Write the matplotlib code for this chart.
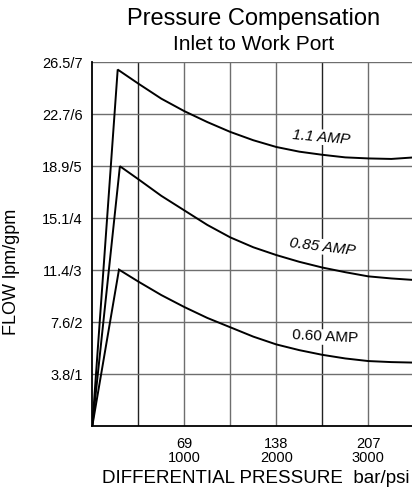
import numpy as np
import matplotlib
matplotlib.use("Agg")
import matplotlib.pyplot as plt

plt.rcParams['font.family'] = ['Liberation Sans', 'DejaVu Sans']

# data (x in psi, y in gpm)
psi_11 = [0, 276, 500, 750, 1000, 1250, 1500, 1750, 2000, 2250, 2500, 2750, 3000, 3250, 3500]
gpm_11 = [0, 6.86, 6.59, 6.30, 6.06, 5.85, 5.66, 5.50, 5.37, 5.28, 5.22, 5.17, 5.15, 5.14, 5.17]

psi_085 = [0, 300, 500, 750, 1000, 1250, 1500, 1750, 2000, 2250, 2500, 2750, 3000, 3250, 3500]
gpm_085 = [0, 5.00, 4.75, 4.43, 4.15, 3.87, 3.63, 3.44, 3.29, 3.16, 3.05, 2.96, 2.88, 2.84, 2.81]

psi_060 = [0, 290, 500, 750, 1000, 1250, 1500, 1750, 2000, 2250, 2500, 2750, 3000, 3250, 3500]
gpm_060 = [0, 3.01, 2.78, 2.52, 2.29, 2.08, 1.90, 1.72, 1.57, 1.46, 1.37, 1.30, 1.25, 1.23, 1.22]

y_ticks = [1, 2, 3, 4, 5, 6, 7]
y_labels = ["3.8/1", "7.6/2", "11.4/3", "15.1/4", "18.9/5", "22.7/6", "26.5/7"]
x_ticks = [1000, 2000, 3000]
x_labels = ["69\n1000", "138\n2000", "207\n3000"]

fig = plt.figure(figsize=(4.12, 4.95), dpi=100)
ax = fig.add_axes([92.3 / 412, 69 / 495, 322 / 412, 363.7 / 495])

# grid
for xv in range(500, 3500, 500):
    c = "#222222" if xv in (500, 2500) else "#6e6e6e"
    ax.axvline(xv, color=c, lw=1.0, zorder=1)
for yv in y_ticks:
    ax.axhline(yv, color="#6e6e6e", lw=1.0, zorder=1)

for px, gy in [(psi_11, gpm_11), (psi_085, gpm_085), (psi_060, gpm_060)]:
    ax.plot(px, gy, color="black", lw=1.4, zorder=3, solid_joinstyle="miter")

box = dict(facecolor="white", edgecolor="none", pad=0.5)
ax.text(2490, 5.56, "1.1 AMP", fontsize=11, style="italic", rotation=-5,
        ha="center", va="center", bbox=box, zorder=2)
ax.text(2500, 3.45, "0.85 AMP", fontsize=11, style="italic", rotation=-7,
        ha="center", va="center", bbox=box, zorder=2)
ax.text(2530, 1.71, "0.60 AMP", fontsize=11, rotation=-3,
        ha="center", va="center", bbox=box, zorder=2)

ax.set_xlim(0, 3500)
ax.set_ylim(0, 7)
ax.set_yticks(y_ticks)
ax.set_yticklabels(y_labels, fontsize=10.5)
ax.set_xticks(x_ticks)
ax.set_xticklabels(x_labels, fontsize=10.5, linespacing=1.0)
ax.tick_params(axis="y", length=0, pad=7)
ax.tick_params(axis="x", length=0, pad=8)

for s in ["top", "right"]:
    ax.spines[s].set_visible(False)
for s in ["left", "bottom"]:
    ax.spines[s].set_color("black")
    ax.spines[s].set_linewidth(1.3)

ax.set_xlabel("DIFFERENTIAL PRESSURE  bar/psi", fontsize=13.5)
ax.xaxis.set_label_coords((255.5 - 92.3) / 322, -0.122)
ax.set_ylabel("FLOW lpm/gpm", fontsize=13)
ax.yaxis.set_label_coords(-72 / 322, 0.425)

fig.text(254 / 412, 1 - 19 / 495, "Pressure Compensation", fontsize=17,
         ha="center", va="center")
fig.text(254 / 412, 1 - 44 / 495, "Inlet to Work Port", fontsize=15,
         ha="center", va="center")

fig.savefig("out.png", dpi=100)
